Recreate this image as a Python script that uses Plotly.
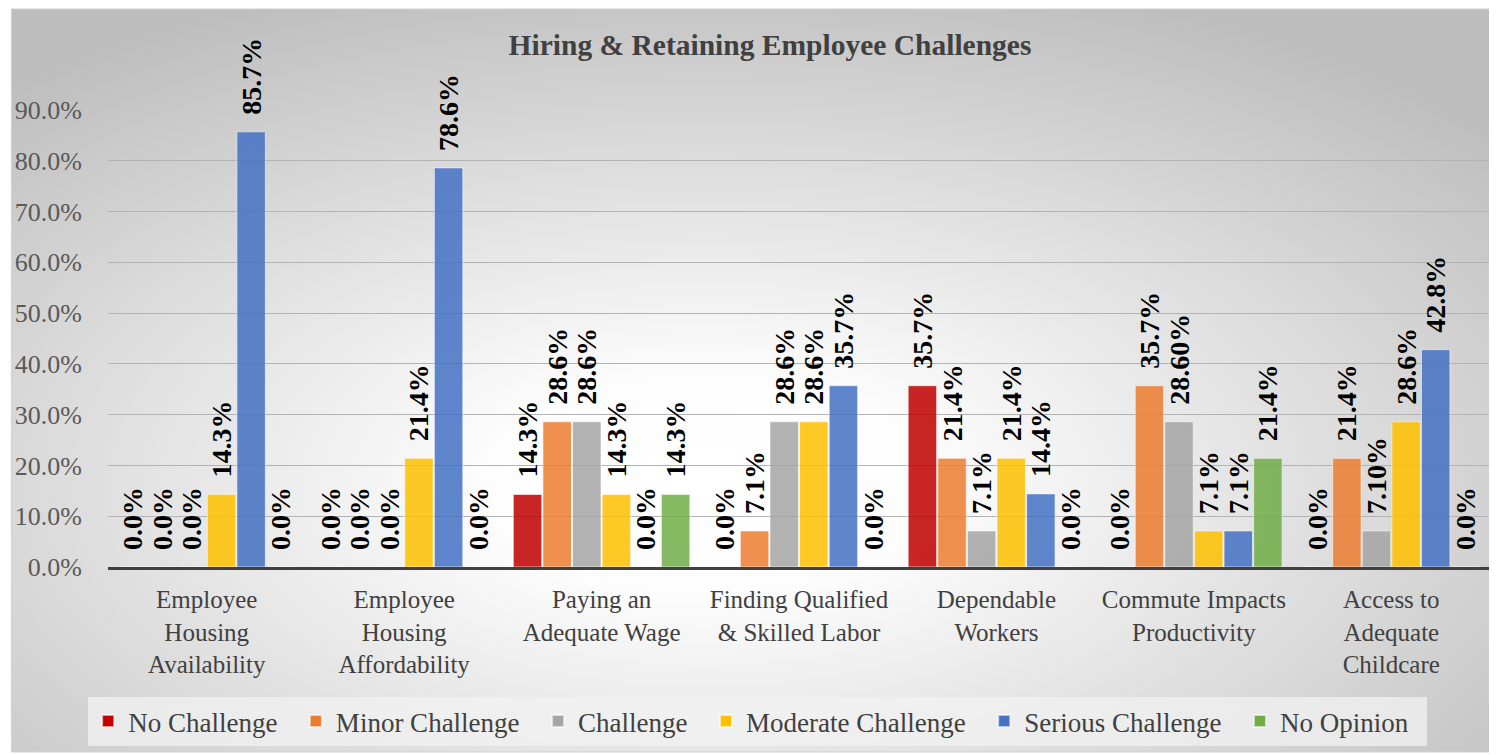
import base64
import plotly.graph_objects as go

categories = [
    "Employee<br>Housing<br>Availability",
    "Employee<br>Housing<br>Affordability",
    "Paying an<br>Adequate Wage",
    "Finding Qualified<br>& Skilled Labor",
    "Dependable<br>Workers",
    "Commute Impacts<br>Productivity",
    "Access to<br>Adequate<br>Childcare",
]

series_names = ["No Challenge", "Minor Challenge", "Challenge",
                "Moderate Challenge", "Serious Challenge", "No Opinion"]

no_challenge = [0.0, 0.0, 14.3, 0.0, 35.7, 0.0, 0.0]
minor_challenge = [0.0, 0.0, 28.6, 7.1, 21.4, 35.7, 21.4]
challenge = [0.0, 0.0, 28.6, 28.6, 7.1, 28.6, 7.1]
moderate_challenge = [14.3, 21.4, 14.3, 28.6, 21.4, 7.1, 28.6]
serious_challenge = [85.7, 78.6, 0.0, 35.7, 14.4, 7.1, 42.8]
no_opinion = [0.0, 0.0, 14.3, 0.0, 0.0, 21.4, 0.0]

no_challenge_labels = ["0.0%", "0.0%", "14.3%", "0.0%", "35.7%", "0.0%", "0.0%"]
minor_challenge_labels = ["0.0%", "0.0%", "28.6%", "7.1%", "21.4%", "35.7%", "21.4%"]
challenge_labels = ["0.0%", "0.0%", "28.6%", "28.6%", "7.1%", "28.60%", "7.10%"]
moderate_challenge_labels = ["14.3%", "21.4%", "14.3%", "28.6%", "21.4%", "7.1%", "28.6%"]
serious_challenge_labels = ["85.7%", "78.6%", "0.0%", "35.7%", "14.4%", "7.1%", "42.8%"]
no_opinion_labels = ["0.0%", "0.0%", "14.3%", "0.0%", "0.0%", "21.4%", "0.0%"]

colors = ["#C00000", "#ED7D31", "#A5A5A5", "#FFC000", "#4472C4", "#70AD47"]

values = [no_challenge, minor_challenge, challenge,
          moderate_challenge, serious_challenge, no_opinion]
labels = [no_challenge_labels, minor_challenge_labels, challenge_labels,
          moderate_challenge_labels, serious_challenge_labels, no_opinion_labels]

FONT = "Liberation Serif, Times New Roman, serif"
NB = "\u00a0"

fig = go.Figure()
for name, vals, labs, col in zip(series_names, values, labels, colors):
    fig.add_trace(go.Bar(
        name=name + NB * 2,
        x=categories,
        y=[v / 100 for v in vals],
        text=labs,
        texttemplate=NB * 2 + "%{text}",
        textposition="outside",
        textangle=-90,
        constraintext="none",
        cliponaxis=False,
        textfont=dict(family=FONT, size=28, color="#000000", weight="bold"),
        marker=dict(color=col, opacity=0.85,
                    line=dict(color="rgba(255,255,255,0.6)", width=1)),
    ))

# radial gradient background for the chart area
svg = """<svg xmlns='http://www.w3.org/2000/svg' width='1484' height='743' viewBox='0 0 1484 743' preserveAspectRatio='none'>
<defs><radialGradient id='g' cx='0.47' cy='0.64' r='0.72'>
<stop offset='0' stop-color='#ffffff'/>
<stop offset='0.2' stop-color='#fdfdfd'/>
<stop offset='1' stop-color='#bdbdbd'/>
</radialGradient></defs>
<rect x='0' y='0' width='1484' height='743' fill='url(#g)'/></svg>"""
src = "data:image/svg+xml;base64," + base64.b64encode(svg.encode()).decode()

# page body has an 8px margin; compensate so the drawing lands where the reference is
OFF = 8
W, H = 1497 - OFF, 755 - OFF
ml, mr, mt, mb = 103 - OFF, 7, 110 - OFF, 188
pw, ph = W - ml - mr, H - mt - mb
zero_y = H - mb + OFF  # page y of 0 line


def px_x(px):
    return (px - (ml + OFF)) / pw


def px_y(py):
    return (zero_y - py) / ph


x0, x1 = px_x(6), px_x(1490)
ytop, ybot = px_y(9), px_y(752)

fig.add_layout_image(dict(
    source=src, xref="paper", yref="paper",
    x=x0, y=ytop, sizex=x1 - x0, sizey=ytop - ybot,
    xanchor="left", yanchor="top", sizing="stretch", layer="below",
))
fig.add_shape(type="rect", xref="paper", yref="paper",
              x0=x0, x1=x1, y0=ybot, y1=ytop,
              line=dict(color="#d0d0d0", width=1), layer="below")

fig.update_layout(
    width=W, height=H,
    margin=dict(l=ml, r=mr, t=mt, b=mb),
    paper_bgcolor="#ffffff",
    plot_bgcolor="rgba(0,0,0,0)",
    barmode="group",
    bargap=0.1,
    bargroupgap=0.04,
    title=dict(text="<b>Hiring &amp; Retaining Employee Challenges</b>",
               x=(770 - OFF) / W, xanchor="center", y=1 - (45 - OFF) / H, yanchor="middle",
               font=dict(family=FONT, size=29.5, color="#404040")),
    font=dict(family=FONT, color="#404040"),
    legend=dict(orientation="h", x=px_x(755), xanchor="center",
                y=px_y(697), yanchor="top",
                bgcolor="rgba(242,242,242,0.75)",
                font=dict(family=FONT, size=27, color="#404040"),
                itemsizing="constant", traceorder="normal"),
    showlegend=True,
)
fig.update_yaxes(range=[0, 0.9], dtick=0.1, tickformat=".1%",
                 showgrid=True, gridcolor="#b3b3b3", gridwidth=1.2,
                 zeroline=False, ticks="", ticklabelstandoff=25,
                 tickfont=dict(family=FONT, size=26, color="#595959"))
fig.update_xaxes(showline=True, linecolor="#404040", linewidth=3,
                 ticks="", ticklabelstandoff=8,
                 tickfont=dict(family=FONT, size=25, color="#404040"))

fig.write_html("out.html")
